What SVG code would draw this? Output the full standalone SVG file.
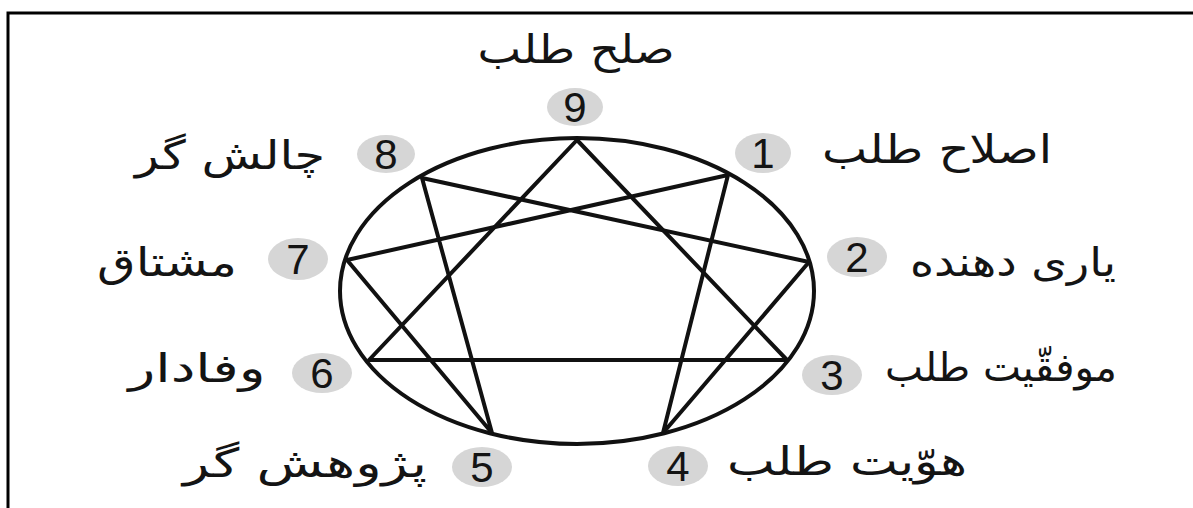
<svg xmlns="http://www.w3.org/2000/svg" width="1193" height="508" viewBox="0 0 1193 508">
<style>
.badge{fill:#d6d6d6}
.num{font-family:"Liberation Sans",Arial,sans-serif;font-size:42px;fill:#141414;text-anchor:middle}
.lbl{font-family:"DejaVu Sans",sans-serif;font-size:40px;fill:#141414;text-anchor:middle}
.ln{stroke:#111;stroke-width:4;fill:none;stroke-linecap:round;stroke-linejoin:round}
</style>
<rect width="1193" height="508" fill="#fff"/>
<path d="M8,508 V13 H1193" fill="none" stroke="#000" stroke-width="3"/>
<g id="connectors">
<ellipse class="ln" cx="577" cy="291" rx="237" ry="153"/>
<path class="ln" d="M577,140 L787,360 L369,360 Z" stroke-width="3.5"/>
<path class="ln" d="M728,175 L663,433 L809,262 L422,178 L492,433 L347,260 Z"/>
</g>
<g id="n9"><ellipse class="badge" cx="575" cy="107" rx="28" ry="19"/><text class="num" x="575" y="122">9</text><text class="lbl" x="576" y="63" textLength="197" lengthAdjust="spacingAndGlyphs">صلح طلب</text></g>
<g id="n1"><ellipse class="badge" cx="763" cy="153" rx="28" ry="20"/><text class="num" x="763" y="168">1</text><text class="lbl" x="937" y="163" textLength="230" lengthAdjust="spacingAndGlyphs">اصلاح طلب</text></g>
<g id="n2"><ellipse class="badge" cx="857" cy="257" rx="30" ry="20"/><text class="num" x="857" y="272">2</text><text class="lbl" x="1013" y="276" textLength="206" lengthAdjust="spacingAndGlyphs">یاری دهنده</text></g>
<g id="n3"><ellipse class="badge" cx="832" cy="375" rx="30" ry="20"/><text class="num" x="832" y="390">3</text><text class="lbl" x="1001" y="381" textLength="232" lengthAdjust="spacingAndGlyphs">موفقّیت طلب</text></g>
<g id="n4"><ellipse class="badge" cx="678" cy="466" rx="30" ry="20"/><text class="num" x="678" y="481">4</text><text class="lbl" x="847" y="475" textLength="240" lengthAdjust="spacingAndGlyphs">هوّیت طلب</text></g>
<g id="n5"><ellipse class="badge" cx="482" cy="467" rx="30" ry="20"/><text class="num" x="482" y="482">5</text><text class="lbl" x="305" y="477" textLength="244" lengthAdjust="spacingAndGlyphs">پژوهش گر</text></g>
<g id="n6"><ellipse class="badge" cx="322" cy="373" rx="30" ry="20"/><text class="num" x="322" y="388">6</text><text class="lbl" x="197" y="382" textLength="137" lengthAdjust="spacingAndGlyphs">وفادار</text></g>
<g id="n7"><ellipse class="badge" cx="298" cy="259" rx="30" ry="21"/><text class="num" x="298" y="274">7</text><text class="lbl" x="167" y="276" textLength="140" lengthAdjust="spacingAndGlyphs">مشتاق</text></g>
<g id="n8"><ellipse class="badge" cx="386" cy="154" rx="29" ry="19"/><text class="num" x="386" y="169">8</text><text class="lbl" x="230" y="169" textLength="190" lengthAdjust="spacingAndGlyphs">چالش گر</text></g>
</svg>
